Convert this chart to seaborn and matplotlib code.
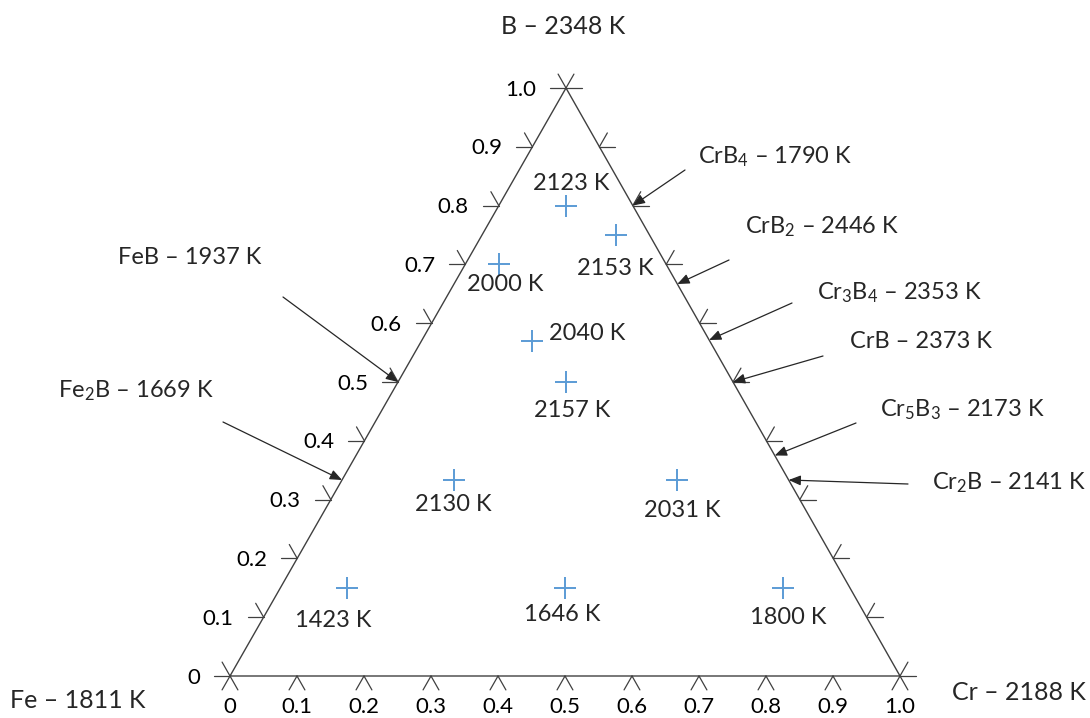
import numpy as np
import pandas as pd
import matplotlib
matplotlib.use("Agg")
import matplotlib.pyplot as plt
import seaborn as sns

# ---------------- data ----------------
tick_values = [0.0, 0.1, 0.2, 0.3, 0.4, 0.5, 0.6, 0.7, 0.8, 0.9, 1.0]
bottom_tick_labels = ["0", "0.1", "0.2", "0.3", "0.4", "0.5", "0.6", "0.7", "0.8", "0.9", "1.0"]
left_tick_labels = ["0", "0.1", "0.2", "0.3", "0.4", "0.5", "0.6", "0.7", "0.8", "0.9", "1.0"]

vertex_labels = ["Fe – 1811 K", "Cr – 2188 K", "B – 2348 K"]

# ternary compositions of measured points (fraction B, fraction Cr; Fe = rest)
point_B = [0.80, 0.75, 0.70, 0.57, 0.50, 1/3, 1/3, 0.15, 0.15, 0.15]
point_Cr = [0.10, 0.20, 0.05, 0.165, 0.25, 1/6, 0.50, 0.10, 0.425, 0.75]
point_T = [2123, 2153, 2000, 2040, 2157, 2130, 2031, 1423, 1646, 1800]

# Cr-B compounds (on the Cr-B edge)
crb_names = ["CrB$_4$", "CrB$_2$", "Cr$_3$B$_4$", "CrB", "Cr$_5$B$_3$", "Cr$_2$B"]
crb_T = [1790, 2446, 2353, 2373, 2173, 2141]
crb_B = [0.8, 2/3, 4/7, 0.5, 3/8, 1/3]

# Fe-B compounds (on the Fe-B edge)
feb_names = ["FeB", "Fe$_2$B"]
feb_T = [1937, 1669]
feb_B = [0.5, 1/3]

# ---------------- style ----------------
sns.set_style("white")
plt.rcParams["font.family"] = ["Lato", "DejaVu Sans"]
plt.rcParams["mathtext.fontset"] = "custom"
plt.rcParams["mathtext.rm"] = "Lato"
plt.rcParams["mathtext.default"] = "regular"

LINE = "#404040"
BLUE = "#5b9bd5"

fig = plt.figure(figsize=(10.9, 7.18), dpi=100)
ax = fig.add_axes([0, 0, 1, 1])
ax.set_xlim(0, 1090)
ax.set_ylim(718, 0)
ax.axis("off")

# triangle geometry (layout coordinates)
V_FE = np.array([230.0, 676.0])
V_CR = np.array([900.0, 676.0])
V_B = np.array([566.0, 88.0])


def tern(b, cr):
    fe = 1 - b - cr
    return fe * V_FE + cr * V_CR + b * V_B


left_dir = (V_B - V_FE) / np.linalg.norm(V_B - V_FE)
right_dir = (V_B - V_CR) / np.linalg.norm(V_B - V_CR)

# triangle
tri = np.array([V_FE, V_CR, V_B, V_FE])
ax.plot(tri[:, 0], tri[:, 1], color=LINE, lw=1.0, solid_joinstyle="miter")

L = 16
TK = dict(color=LINE, lw=0.9)
FS_TICK = 16
for t, bl, ll in zip(tick_values, bottom_tick_labels, left_tick_labels):
    # bottom axis (Cr fraction)
    p = tern(0, t)
    for d in (-left_dir, -right_dir):
        q = p + L * d
        ax.plot([p[0], q[0]], [p[1], q[1]], **TK)
    ax.text(p[0], 717, bl, ha="center", va="bottom", fontsize=FS_TICK, color="black")
    # left axis (B fraction)
    p = tern(t, 0)
    q1 = p + np.array([-L, 0])
    q2 = p + L * right_dir
    ax.plot([p[0], q1[0]], [p[1], q1[1]], **TK)
    ax.plot([p[0], q2[0]], [p[1], q2[1]], **TK)
    ax.text(p[0] - L - 14, p[1] + 7.5, ll, ha="right", va="baseline", fontsize=FS_TICK, color="black")
    # right axis
    p = tern(t, 1 - t)
    q1 = p + np.array([L, 0])
    q2 = p + L * left_dir
    ax.plot([p[0], q1[0]], [p[1], q1[1]], **TK)
    ax.plot([p[0], q2[0]], [p[1], q2[1]], **TK)

# vertex labels
FS = 17
ax.text(10, 708, vertex_labels[0], ha="left", va="baseline", fontsize=18)
ax.text(1086, 700, vertex_labels[1], ha="right", va="baseline", fontsize=18)
ax.text(563, 34, vertex_labels[2], ha="center", va="baseline", fontsize=18)

# measured points
xy = np.array([tern(b, c) for b, c in zip(point_B, point_Cr)])
df = pd.DataFrame({"x": xy[:, 0], "y": xy[:, 1], "T": point_T})
sns.scatterplot(data=df, x="x", y="y", marker="+", s=260, color=BLUE,
                linewidth=1.4, ax=ax, legend=False, zorder=3)
ax.set_xlim(0, 1090)
ax.set_ylim(718, 0)
ax.axis("off")

label_off = [(5, -16), (-1, 40), (7, 27), (55, -1), (7, 35),
             (0, 31), (5, 37), (-14, 39), (-3, 33), (5, 36)]
for (x, y), T, (dx, dy) in zip(xy, point_T, label_off):
    ax.text(x + dx, y + dy, f"{T} K", ha="center", va="baseline", fontsize=FS)

ARROW = dict(arrowstyle="-|>,head_length=0.6,head_width=0.25", color="#262626",
             lw=0.9, mutation_scale=12, shrinkA=0, shrinkB=0)

crb_start = [(685, 170), (729, 260), (792, 303), (823, 356), (856, 423), (908, 484)]
crb_text = [(698, 163, "left"), (745, 233, "left"), (817, 299, "left"),
            (850, 348, "left"), (880, 416, "left"), (1086, 489, "right")]
for name, T, b, s, tp in zip(crb_names, crb_T, crb_B, crb_start, crb_text):
    tip = tern(b, 1 - b)
    ax.annotate("", xy=tip, xytext=s, arrowprops=ARROW)
    ax.text(tp[0], tp[1], f"{name} – {T} K", ha=tp[2], va="baseline", fontsize=FS)

feb_start = [(283, 297), (223, 422)]
feb_text = [(118, 264), (58, 397)]
for name, T, b, s, tp in zip(feb_names, feb_T, feb_B, feb_start, feb_text):
    tip = tern(b, 0)
    ax.annotate("", xy=tip, xytext=s, arrowprops=ARROW)
    ax.text(tp[0], tp[1], f"{name} – {T} K", ha="left", va="baseline", fontsize=FS)

fig.savefig("out.png", dpi=100)
